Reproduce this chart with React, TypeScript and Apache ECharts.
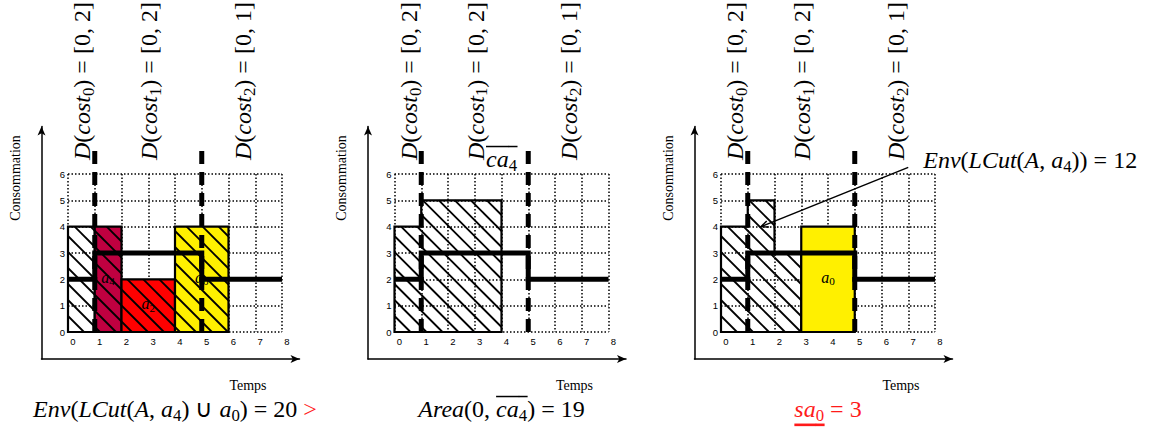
import React, { useEffect, useRef } from "react";
import * as echarts from "echarts";

// ---------------- data ----------------
const X_MIN = 0;
const X_MAX = 8;
const Y_MIN = 0;
const Y_MAX = 6;
const TICK_STEP = 1;

// time segments of the cost variables (boundaries drawn as thick dashed lines)
const timeBounds = [0, 1, 5, 8];
// thick profile level on each segment
const capacityLevels = [2, 3, 2];
// domains of cost_0, cost_1, cost_2
const costDomains = ["[0, 2]", "[0, 2]", "[0, 1]"];

// panel 1 : LCut(A, a4) U a0
const panel1Blocks = [
  { id: "A", start: 0, end: 1, height: 4 },
  { id: "a_4", start: 1, end: 2, height: 4 },
  { id: "a_2", start: 2, end: 4, height: 2 },
  { id: "a_0", start: 4, end: 6, height: 4 },
];
// panel 2 : area up to the bound of ca4
const panel2Envelope = [
  { start: 0, end: 1, height: 4 },
  { start: 1, end: 4, height: 5 },
];
const ca4Bound = 4;
// panel 3 : Env(LCut(A, a4)) and a0
const panel3Envelope = [
  { start: 0, end: 1, height: 4 },
  { start: 1, end: 2, height: 5 },
  { start: 2, end: 3, height: 3 },
];
const panel3Blocks = [{ id: "a_0", start: 3, end: 5, height: 4 }];

const envLCutValue = 12;
const envUnionValue = 20;
const areaValue = 19;
const sa0Value = 3;
const envArrowFrom = [7, 6.25];
const envArrowTo = [1.5, 4];

// ---------------- styles / layout ----------------
const SERIF = '"Liberation Serif", "Times New Roman", serif';
const SANS = '"Liberation Sans", Arial, Helvetica, sans-serif';
const fillOf: Record<string, string> = {
  A: "none",
  a_4: "#BF0040",
  a_2: "#FF0000",
  a_0: "#FFF000",
};
const RED = "#FF1A1A";
const PANEL_LEFT = [68, 394.5, 721];
const GRID_TOP = 174;
const GRID_W = 214;
const GRID_H = 158;
const DASH_TOP = 6.9;
const HATCH_STEP = 16;
const MATH_FS = 24;

type Run = { t: string; it?: boolean; sub?: boolean; color?: string; over?: boolean; under?: boolean };

let measureCtx: CanvasRenderingContext2D | null = null;
function measure(font: string, text: string) {
  if (!measureCtx) measureCtx = document.createElement("canvas").getContext("2d");
  if (!measureCtx) return text.length * 8;
  measureCtx.font = font;
  return measureCtx.measureText(text).width;
}

function layoutRuns(runs: Run[], fs: number, color = "#000") {
  const els: any[] = [];
  let x = 0;
  for (const r of runs) {
    const size = r.sub ? fs * 0.7 : fs;
    const font = `${r.it ? "italic " : ""}${size}px ${SERIF}`;
    const w = measure(font, r.t);
    const y = r.sub ? fs * 0.26 : 0;
    const fill = r.color || color;
    els.push({
      type: "text",
      x,
      y,
      silent: true,
      style: { text: r.t, font, fill, align: "left", verticalAlign: "middle" },
    });
    if (r.over) {
      els.push({
        type: "line",
        silent: true,
        shape: { x1: x, y1: -fs * 0.52, x2: x + w + 0.5, y2: -fs * 0.52 },
        style: { stroke: fill, lineWidth: 1.5 },
      });
    }
    if (r.under) {
      els.push({
        type: "line",
        silent: true,
        shape: { x1: x, y1: fs * 0.66, x2: x + w + 0.5, y2: fs * 0.66 },
        style: { stroke: fill, lineWidth: 2.6 },
      });
    }
    x += w;
  }
  return { els, width: x };
}

function labelRuns(id: string): Run[] {
  const [base, sub] = id.split("_");
  return sub ? [{ t: base, it: true }, { t: sub, sub: true }] : [{ t: base, it: true }];
}

function costRuns(i: number): Run[] {
  return [
    { t: "D", it: true },
    { t: "(" },
    { t: "cost", it: true },
    { t: String(i), sub: true },
    { t: ") = " + costDomains[i] },
  ];
}

function hatchLines(x0: number, y0: number, x1: number, y1: number, o: number[]) {
  const res: any[] = [];
  const base = o[1] - o[0];
  const cMin = y0 - x1;
  const cMax = y1 - x0;
  const kMin = Math.ceil((base - cMax) / HATCH_STEP);
  const kMax = Math.floor((base - cMin) / HATCH_STEP);
  for (let k = kMin; k <= kMax; k++) {
    const c = base - k * HATCH_STEP;
    const xa = Math.max(x0, y0 - c);
    const xb = Math.min(x1, y1 - c);
    if (xb - xa > 0.6) {
      res.push({
        type: "line",
        silent: true,
        shape: { x1: xa, y1: xa + c, x2: xb, y2: xb + c },
        style: { stroke: "#000", lineWidth: 1.8 },
      });
    }
  }
  return res;
}

type Item = { start: number; end: number; height: number; fill: string; hatch: boolean; border: boolean; label: string | null };

function blocksSeries(p: number, items: Item[], z: number) {
  return {
    type: "custom",
    xAxisIndex: 2 * p,
    yAxisIndex: 2 * p,
    z,
    silent: true,
    clip: false,
    data: items.map((it) => [it.start, it.end, it.height]),
    renderItem: (params: any, api: any) => {
      const it = items[params.dataIndex];
      const p0 = api.coord([api.value(0), 0]);
      const p1 = api.coord([api.value(1), api.value(2)]);
      const o = api.coord([0, 0]);
      const x0 = p0[0], x1 = p1[0], y0 = p1[1], y1 = p0[1];
      const children: any[] = [];
      if (it.fill && it.fill !== "none") {
        children.push({
          type: "rect",
          shape: { x: x0, y: y0, width: x1 - x0, height: y1 - y0 },
          style: { fill: it.fill, stroke: "none" },
        });
      }
      if (it.hatch) children.push(...hatchLines(x0, y0, x1, y1, o));
      if (it.label) {
        const lay = layoutRuns(labelRuns(it.label), 16);
        children.push({
          type: "group",
          x: (x0 + x1) / 2 - lay.width / 2,
          y: (y0 + y1) / 2 - 2,
          children: lay.els,
        });
      }
      if (it.border) {
        children.push({
          type: "rect",
          shape: { x: x0, y: y0, width: x1 - x0, height: y1 - y0 },
          style: { fill: "none", stroke: "#000", lineWidth: 2.2 },
        });
      }
      return { type: "group", children };
    },
  };
}

function outlineSeries(p: number, env: { start: number; end: number; height: number }[], z: number) {
  return {
    type: "custom",
    xAxisIndex: 2 * p,
    yAxisIndex: 2 * p,
    z,
    silent: true,
    clip: false,
    data: [[env[0].start, env[env.length - 1].end]],
    renderItem: (_params: any, api: any) => {
      const pts: number[][] = [api.coord([env[0].start, 0])];
      env.forEach((b) => {
        pts.push(api.coord([b.start, b.height]));
        pts.push(api.coord([b.end, b.height]));
      });
      pts.push(api.coord([env[env.length - 1].end, 0]));
      return {
        type: "polygon",
        shape: { points: pts },
        style: { fill: "none", stroke: "#000", lineWidth: 2.2, lineJoin: "miter" },
      };
    },
  };
}

function profileSeries(p: number) {
  const pts: number[][] = [];
  capacityLevels.forEach((lv, i) => {
    pts.push([timeBounds[i], lv], [timeBounds[i + 1], lv]);
  });
  return {
    type: "line",
    xAxisIndex: 2 * p,
    yAxisIndex: 2 * p,
    z: 5,
    silent: true,
    clip: false,
    symbol: "none",
    data: pts,
    lineStyle: { color: "#000", width: 5, cap: "butt", join: "miter" },
  };
}

function dashedSeries(p: number) {
  return {
    type: "custom",
    xAxisIndex: 2 * p,
    yAxisIndex: 2 * p,
    z: 6,
    silent: true,
    clip: false,
    data: timeBounds.slice(1, -1).map((v) => [v]),
    renderItem: (_params: any, api: any) => {
      const a = api.coord([api.value(0), 0]);
      const b = api.coord([api.value(0), DASH_TOP]);
      return {
        type: "line",
        shape: { x1: a[0], y1: a[1], x2: b[0], y2: b[1] },
        style: { stroke: "#000", lineWidth: 5, lineDash: [13, 8], lineCap: "butt" },
      };
    },
  };
}

function costLabelSeries(p: number) {
  const mids = timeBounds.slice(0, -1).map((b, i) => [(b + timeBounds[i + 1]) / 2, i]);
  return {
    type: "custom",
    xAxisIndex: 2 * p,
    yAxisIndex: 2 * p,
    z: 7,
    silent: true,
    clip: false,
    data: mids,
    renderItem: (params: any, api: any) => {
      const pt = api.coord([api.value(0), Y_MAX]);
      const lay = layoutRuns(costRuns(params.dataIndex), MATH_FS);
      return {
        type: "group",
        x: pt[0] + 1,
        y: pt[1] - 14,
        rotation: Math.PI / 2,
        children: lay.els,
      };
    },
  };
}

function ca4Series(p: number) {
  return {
    type: "custom",
    xAxisIndex: 2 * p,
    yAxisIndex: 2 * p,
    z: 7,
    silent: true,
    clip: false,
    data: [[ca4Bound]],
    renderItem: (_params: any, api: any) => {
      const pt = api.coord([api.value(0), Y_MAX]);
      const lay = layoutRuns(
        [
          { t: "ca", it: true, over: true },
          { t: "4", sub: true, over: true },
        ],
        MATH_FS
      );
      return { type: "group", x: pt[0] - lay.width / 2, y: pt[1] - 15, children: lay.els };
    },
  };
}

function envSeries(p: number) {
  return {
    type: "custom",
    xAxisIndex: 2 * p,
    yAxisIndex: 2 * p,
    z: 8,
    silent: true,
    clip: false,
    data: [[envArrowFrom[0], envArrowFrom[1], envArrowTo[0], envArrowTo[1]]],
    renderItem: (_params: any, api: any) => {
      const a = api.coord([api.value(0), api.value(1)]);
      const b = api.coord([api.value(2), api.value(3)]);
      const dx = a[0] - b[0];
      const dy = a[1] - b[1];
      const len = Math.hypot(dx, dy);
      const ux = dx / len, uy = dy / len;
      const ang = (24 * Math.PI) / 180;
      const L = 8;
      const barb = (s: number) => [
        b[0] + L * (ux * Math.cos(s * ang) - uy * Math.sin(s * ang)),
        b[1] + L * (ux * Math.sin(s * ang) + uy * Math.cos(s * ang)),
      ];
      const lay = layoutRuns(
        [
          { t: "Env", it: true },
          { t: "(" },
          { t: "LCut", it: true },
          { t: "(" },
          { t: "A", it: true },
          { t: ", " },
          { t: "a", it: true },
          { t: "4", sub: true },
          { t: ")) = " + envLCutValue },
        ],
        MATH_FS
      );
      return {
        type: "group",
        children: [
          {
            type: "line",
            shape: { x1: a[0], y1: a[1], x2: b[0], y2: b[1] },
            style: { stroke: "#000", lineWidth: 1.5 },
          },
          {
            type: "polyline",
            shape: { points: [barb(1), b, barb(-1)] },
            style: { stroke: "#000", fill: "none", lineWidth: 1.5 },
          },
          { type: "group", x: a[0] + 15, y: a[1] - 7, children: lay.els },
        ],
      };
    },
  };
}

function buildOption() {
  const grids: any[] = [];
  const xAxes: any[] = [];
  const yAxes: any[] = [];
  const dotted = { color: "#000", width: 1.5, type: [1.5, 2] };
  PANEL_LEFT.forEach((L, p) => {
    grids.push({ left: L, top: GRID_TOP, width: GRID_W, height: GRID_H, outerBoundsMode: "none", containLabel: false });
    grids.push({
      left: L - 26.5,
      top: 126.5,
      width: GRID_W + 26.5 + 17.5,
      height: 359 - 126.5,
      outerBoundsMode: "none",
      containLabel: false,
    });
    xAxes.push({
      gridIndex: 2 * p,
      type: "value",
      min: X_MIN,
      max: X_MAX,
      interval: TICK_STEP,
      axisLine: { show: false },
      axisTick: { show: false },
      splitLine: { show: true, lineStyle: dotted },
      axisLabel: {
        show: true,
        color: "#000",
        fontSize: 9.5,
        fontFamily: SANS,
        margin: 4,
        padding: [0, 0, 0, 10],
        showMinLabel: true,
        showMaxLabel: true,
      },
    });
    xAxes.push({
      gridIndex: 2 * p + 1,
      type: "value",
      min: 0,
      max: 1,
      axisLine: { show: true, symbol: ["none", "arrow"], symbolSize: [6, 9], lineStyle: { color: "#000", width: 1.5 } },
      axisTick: { show: false },
      axisLabel: { show: false },
      splitLine: { show: false },
    });
    yAxes.push({
      gridIndex: 2 * p,
      type: "value",
      min: Y_MIN,
      max: Y_MAX,
      interval: TICK_STEP,
      axisLine: { show: false },
      axisTick: { show: false },
      splitLine: { show: true, lineStyle: dotted },
      axisLabel: {
        show: true,
        color: "#000",
        fontSize: 9.5,
        fontFamily: SANS,
        margin: 3,
        padding: [0, 0, 10, 0],
        showMinLabel: true,
        showMaxLabel: true,
      },
    });
    yAxes.push({
      gridIndex: 2 * p + 1,
      type: "value",
      min: 0,
      max: 1,
      axisLine: { show: true, symbol: ["none", "arrow"], symbolSize: [6, 9], lineStyle: { color: "#000", width: 1.5 } },
      axisTick: { show: false },
      axisLabel: { show: false },
      splitLine: { show: false },
    });
  });

  const p1Items: Item[] = panel1Blocks.map((b) => ({
    start: b.start,
    end: b.end,
    height: b.height,
    fill: fillOf[b.id],
    hatch: true,
    border: true,
    label: b.id === "A" ? null : b.id,
  }));
  const envItems = (env: { start: number; end: number; height: number }[]): Item[] =>
    env.map((b) => ({ start: b.start, end: b.end, height: b.height, fill: "none", hatch: true, border: false, label: null }));
  const p3Items: Item[] = panel3Blocks.map((b) => ({
    start: b.start,
    end: b.end,
    height: b.height,
    fill: fillOf[b.id],
    hatch: false,
    border: true,
    label: b.id,
  }));

  const series: any[] = [
    blocksSeries(0, p1Items, 2),
    profileSeries(0),
    dashedSeries(0),
    costLabelSeries(0),

    blocksSeries(1, envItems(panel2Envelope), 2),
    outlineSeries(1, panel2Envelope, 3),
    profileSeries(1),
    dashedSeries(1),
    costLabelSeries(1),
    ca4Series(1),

    blocksSeries(2, envItems(panel3Envelope), 2),
    outlineSeries(2, panel3Envelope, 3),
    blocksSeries(2, p3Items, 4),
    profileSeries(2),
    dashedSeries(2),
    costLabelSeries(2),
    envSeries(2),
  ];

  const graphic: any[] = [];
  PANEL_LEFT.forEach((L) => {
    graphic.push({
      type: "text",
      x: L + 180,
      y: 385,
      silent: true,
      style: { text: "Temps", font: `14px ${SERIF}`, fill: "#000", align: "center", verticalAlign: "middle" },
    });
    graphic.push({
      type: "text",
      x: L - 53,
      y: 178,
      rotation: Math.PI / 2,
      silent: true,
      style: { text: "Consommation", font: `14px ${SERIF}`, fill: "#000", align: "center", verticalAlign: "middle" },
    });
  });

  const bottomRuns: Run[][] = [
    [
      { t: "Env", it: true },
      { t: "(" },
      { t: "LCut", it: true },
      { t: "(" },
      { t: "A", it: true },
      { t: ", " },
      { t: "a", it: true },
      { t: "4", sub: true },
      { t: ") \u222A " },
      { t: "a", it: true },
      { t: "0", sub: true },
      { t: ") = " + envUnionValue + " " },
      { t: ">", color: RED },
    ],
    [
      { t: "Area", it: true },
      { t: "(0, " },
      { t: "ca", it: true, over: true },
      { t: "4", sub: true, over: true },
      { t: ") = " + areaValue },
    ],
    [
      { t: "sa", it: true, under: true, color: RED },
      { t: "0", sub: true, under: true, color: RED },
      { t: " = " + sa0Value, color: RED },
    ],
  ];
  bottomRuns.forEach((runs, p) => {
    const lay = layoutRuns(runs, MATH_FS);
    graphic.push({
      type: "group",
      x: PANEL_LEFT[p] + GRID_W / 2 - lay.width / 2,
      y: 409,
      silent: true,
      children: lay.els,
    });
  });

  return {
    animation: false,
    backgroundColor: "#ffffff",
    grid: grids,
    xAxis: xAxes,
    yAxis: yAxes,
    series,
    graphic,
  };
}

export default function App() {
  const ref = useRef<HTMLDivElement>(null);
  useEffect(() => {
    document.body.style.margin = "0";
    const chart = echarts.init(ref.current as HTMLDivElement, null, { renderer: "svg", width: 1167, height: 432 });
    chart.setOption(buildOption() as any);
    return () => chart.dispose();
  }, []);
  return <div ref={ref} style={{ width: 1167, height: 432, overflow: "hidden" }} />;
}
